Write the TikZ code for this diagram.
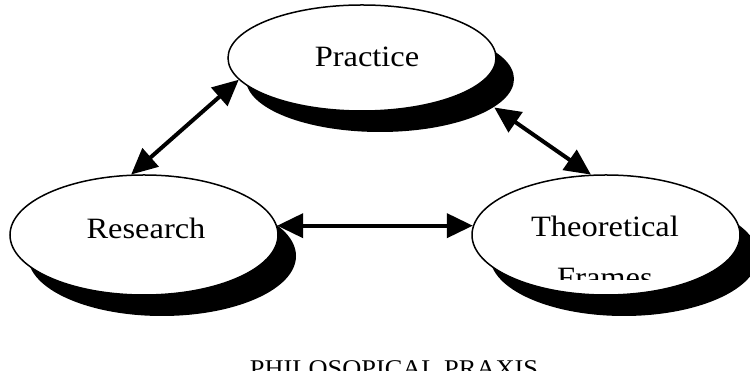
\documentclass[tikz,border=0pt]{standalone}
\usepackage{fontspec}
\setmainfont[FakeStretch=1.1]{Liberation Serif}
\usetikzlibrary{shapes.geometric}
\usetikzlibrary{shadows}
\usetikzlibrary{arrows.meta}

\begin{document}
\begin{tikzpicture}[x=1pt, y=1pt,
    bubble/.style={ellipse, draw=black, line width=1.5pt, fill=white, inner sep=0pt,
      minimum width=268pt,
      drop shadow={shadow xshift=18pt, shadow yshift=-21pt, fill=black, opacity=1}},
    word/.style={anchor=base, inner sep=0pt, font=\fontsize{29.5}{35}\selectfont},
    twoway/.style={{Triangle[length=26pt,width=24pt]}-{Triangle[length=26pt,width=24pt]}, line width=4pt}]
			\useasboundingbox (0,0) rectangle (750,371);
			\fill[white] (0,0) rectangle (750,371);
			\clip (0,0) rectangle (750,371);
			\node[bubble, minimum height=106pt] (prac) at (362,313) {};
			\node[bubble, minimum height=120pt] (res) at (144,136) {};
			\node[bubble, minimum height=120pt] (theo) at (606,136) {};
			\node[word] (prac text) at (367,304) {Practice};
			\node[word] (res text) at (146,132) {Research};
			\node[word] (theo text) at (605,134) {Theoretical};
			\begin{scope}
				\clip (0,91) rectangle (750,371);
				\node[word] (frames text) at (605,83) {Frames};
			\end{scope}
			\draw[twoway] (res.102) -- (prac.190);
			\draw[twoway] ([shift={(18,-21)}]prac.-14) -- (theo.104);
			\draw[twoway] (res.4) -- (theo.176);
			\node[word, font=\fontsize{24}{29}\selectfont] (praxis) at (394,-6) {PHILOSOPICAL PRAXIS};
\end{tikzpicture}
\end{document}
